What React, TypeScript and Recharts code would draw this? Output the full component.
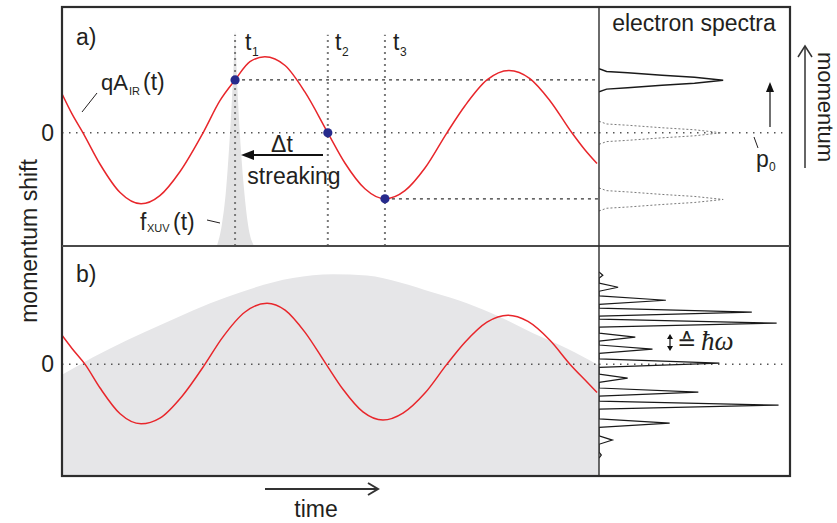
import React from 'react';
import {
  ComposedChart, Line, Area, Scatter, XAxis, YAxis, ReferenceLine,
} from 'recharts';

// time axis in fs, momentum shift in arbitrary units
const T_RANGE: [number, number] = [0, 22];
const P_RANGE_A: [number, number] = [-1.8, 2.0];
const P_RANGE_B: [number, number] = [-1.78, 1.88];

// a) IR vector potential qA_IR(t)
const IR_A = [
  { t: 0, p: 0.62 }, { t: 0.41, p: 0.3 }, { t: 0.86, p: 0 }, { t: 1.56, p: -0.5 },
  { t: 2.38, p: -0.95 }, { t: 3.24, p: -1.13 }, { t: 4.01, p: -1.0 }, { t: 4.83, p: -0.62 },
  { t: 5.78, p: 0 }, { t: 6.47, p: 0.51 }, { t: 7.09, p: 0.84 }, { t: 7.7, p: 1.13 },
  { t: 8.31, p: 1.21 }, { t: 9.14, p: 1.07 }, { t: 9.95, p: 0.65 }, { t: 10.89, p: 0 },
  { t: 11.59, p: -0.48 }, { t: 12.41, p: -0.89 }, { t: 13.23, p: -1.05 }, { t: 14.05, p: -0.92 },
  { t: 14.87, p: -0.56 }, { t: 15.77, p: 0 }, { t: 16.51, p: 0.43 }, { t: 17.41, p: 0.84 },
  { t: 18.31, p: 0.99 }, { t: 19.17, p: 0.86 }, { t: 19.99, p: 0.51 }, { t: 20.89, p: 0 },
  { t: 21.42, p: -0.27 }, { t: 21.92, p: -0.49 },
];

// a) attosecond XUV pulse f_XUV(t)
const XUV_PULSE = [
  { t: 6.35, p: -1.8 }, { t: 6.55, p: -1.46 }, { t: 6.72, p: -0.91 }, { t: 6.84, p: -0.27 },
  { t: 6.96, p: 0.52 }, { t: 7.05, p: 1.24 }, { t: 7.09, p: 1.62 }, { t: 7.13, p: 1.24 },
  { t: 7.21, p: 0.52 }, { t: 7.33, p: -0.27 }, { t: 7.46, p: -0.91 }, { t: 7.62, p: -1.46 },
  { t: 7.87, p: -1.8 },
];

// a) emission times t1..t3 and their momentum shift
const DELAYS = [
  { id: '1', t: 7.09, p: 0.84 },
  { id: '2', t: 10.89, p: 0 },
  { id: '3', t: 13.23, p: -1.05 },
];
const DELAY_LINE_TOP = 1.56;

// a) electron spectra (momentum p, intensity i)
const SPEC_T1 = [
  { p: 1.018, i: 0 }, { p: 0.975, i: 0.04 }, { p: 0.955, i: 0.15 }, { p: 0.915, i: 0.33 },
  { p: 0.883, i: 0.5 }, { p: 0.835, i: 0.65 }, { p: 0.787, i: 0.5 }, { p: 0.755, i: 0.33 },
  { p: 0.715, i: 0.15 }, { p: 0.695, i: 0.04 }, { p: 0.652, i: 0 },
];
const SPEC_T2 = [
  { p: 0.183, i: 0 }, { p: 0.14, i: 0.04 }, { p: 0.12, i: 0.15 }, { p: 0.08, i: 0.33 },
  { p: 0.048, i: 0.5 }, { p: 0, i: 0.64 }, { p: -0.048, i: 0.5 }, { p: -0.08, i: 0.33 },
  { p: -0.12, i: 0.15 }, { p: -0.14, i: 0.04 }, { p: -0.183, i: 0 },
];
const SPEC_T3 = [
  { p: -0.877, i: 0 }, { p: -0.92, i: 0.04 }, { p: -0.94, i: 0.15 }, { p: -0.98, i: 0.33 },
  { p: -1.012, i: 0.5 }, { p: -1.06, i: 0.65 }, { p: -1.108, i: 0.5 }, { p: -1.14, i: 0.33 },
  { p: -1.18, i: 0.15 }, { p: -1.2, i: 0.04 }, { p: -1.243, i: 0 },
];

// b) long XUV pulse and IR field
const IR_B = [
  { t: 0, p: 0.46 }, { t: 0.41, p: 0.25 }, { t: 0.94, p: 0 }, { t: 1.56, p: -0.38 },
  { t: 2.38, p: -0.79 }, { t: 3.24, p: -0.95 }, { t: 4.01, p: -0.86 }, { t: 4.92, p: -0.51 },
  { t: 5.86, p: 0 }, { t: 6.55, p: 0.41 }, { t: 7.5, p: 0.83 }, { t: 8.4, p: 0.97 },
  { t: 9.14, p: 0.86 }, { t: 9.95, p: 0.51 }, { t: 10.82, p: 0 }, { t: 11.51, p: -0.4 },
  { t: 12.33, p: -0.76 }, { t: 13.15, p: -0.89 }, { t: 13.97, p: -0.78 }, { t: 14.87, p: -0.46 },
  { t: 15.77, p: 0 }, { t: 16.51, p: 0.35 }, { t: 17.41, p: 0.67 }, { t: 18.27, p: 0.78 },
  { t: 19.09, p: 0.68 }, { t: 19.99, p: 0.38 }, { t: 20.81, p: 0 }, { t: 21.42, p: -0.25 },
  { t: 21.92, p: -0.45 },
];
const ENVELOPE_B = [
  { t: 0, p: -0.17 }, { t: 1.27, p: 0.11 }, { t: 4.01, p: 0.62 }, { t: 6.76, p: 1.07 },
  { t: 9.46, p: 1.37 }, { t: 11.1, p: 1.43 }, { t: 12.49, p: 1.41 }, { t: 13.85, p: 1.3 },
  { t: 15.2, p: 1.14 }, { t: 16.59, p: 0.97 }, { t: 17.94, p: 0.75 }, { t: 19.3, p: 0.49 },
  { t: 20.69, p: 0.25 }, { t: 22, p: -0.02 },
];

// b) sideband comb spectrum
const SPEC_B = [
  { p: 1.465, i: 0 }, { p: 1.415, i: 0.02 }, { p: 1.365, i: 0 },
  { p: 1.29, i: 0 }, { p: 1.224, i: 0.1 }, { p: 1.16, i: 0 },
  { p: 1.085, i: 0 }, { p: 1.017, i: 0.35 }, { p: 0.95, i: 0 },
  { p: 0.89, i: 0 }, { p: 0.827, i: 0.8 }, { p: 0.765, i: 0 },
  { p: 0.715, i: 0 }, { p: 0.652, i: 0.93 }, { p: 0.59, i: 0 },
  { p: 0.495, i: 0 }, { p: 0.429, i: 0.19 }, { p: 0.365, i: 0 },
  { p: 0.305, i: 0 }, { p: 0.238, i: 0.28 }, { p: 0.17, i: 0 },
  { p: 0.085, i: 0 }, { p: 0.016, i: 0.63 }, { p: -0.05, i: 0 },
  { p: -0.16, i: 0 }, { p: -0.223, i: 0.15 }, { p: -0.29, i: 0 },
  { p: -0.38, i: 0 }, { p: -0.445, i: 0.52 }, { p: -0.51, i: 0 },
  { p: -0.59, i: 0 }, { p: -0.652, i: 0.94 }, { p: -0.715, i: 0 },
  { p: -0.87, i: 0 }, { p: -0.938, i: 0.37 }, { p: -1.005, i: 0 },
  { p: -1.14, i: 0 }, { p: -1.208, i: 0.07 }, { p: -1.275, i: 0 },
  { p: -1.4, i: 0 }, { p: -1.447, i: 0.012 }, { p: -1.495, i: 0 },
];

const INK = '#231f20';
const RED = '#e8262b';
const NAVY = '#262a8c';
const FONT = '"Liberation Sans", Arial, Helvetica, sans-serif';
const NO_MARK = () => <g />;

const zeroLine = { stroke: '#555', strokeDasharray: '1.5 5.5', strokeWidth: 1.5 };

function FieldPanel({ top, height, range, children }: any) {
  return (
    <div style={{ position: 'absolute', left: 0, top }}>
      <ComposedChart width={599} height={height} margin={{ top: 0, right: 0, bottom: 0, left: 0 }}>
        <XAxis type="number" dataKey="t" domain={T_RANGE} hide allowDataOverflow />
        <YAxis
          type="number" dataKey="p" domain={range} ticks={[0]} width={62}
          axisLine={false} tickLine={false} allowDataOverflow
          tick={{ fontSize: 23, fill: INK, fontFamily: FONT }}
        />
        {children}
      </ComposedChart>
    </div>
  );
}

function SpectraPanel({ top, height, range, children }: any) {
  return (
    <div style={{ position: 'absolute', left: 599, top }}>
      <ComposedChart width={191} height={height} margin={{ top: 0, right: 0, bottom: 0, left: 0 }}>
        <XAxis type="number" dataKey="i" domain={[0, 1]} hide allowDataOverflow />
        <YAxis type="number" dataKey="p" domain={range} hide allowDataOverflow />
        <ReferenceLine segment={[{ x: 0, y: 0 }, { x: 0.96, y: 0 }]} {...zeroLine} />
        {children}
      </ComposedChart>
    </div>
  );
}

export default function App() {
  return (
    <div style={{ position: 'fixed', left: 0, top: 0, width: 837, height: 523, background: '#fff', fontFamily: FONT }}>
      <FieldPanel top={7} height={239} range={P_RANGE_A}>
        <Area
          data={XUV_PULSE} dataKey="p" type="monotone" baseValue={P_RANGE_A[0]}
          fill="#e2e2e3" fillOpacity={1} stroke="none" isAnimationActive={false}
        />
        <ReferenceLine y={0} {...zeroLine} />
        {DELAYS.map(d => (
          <ReferenceLine
            key={`v${d.id}`}
            segment={[{ x: d.t, y: P_RANGE_A[0] }, { x: d.t, y: DELAY_LINE_TOP }]}
            stroke="#7a7a7a" strokeDasharray="2 4" strokeWidth={2}
          />
        ))}
        {DELAYS.filter(d => d.p !== 0).map(d => (
          <ReferenceLine
            key={`h${d.id}`}
            segment={[{ x: d.t, y: d.p }, { x: T_RANGE[1], y: d.p }]}
            stroke="#333" strokeDasharray="3 4" strokeWidth={1.2}
          />
        ))}
        <Line data={IR_A} dataKey="p" type="monotone" stroke={RED} strokeWidth={1.5} dot={false} isAnimationActive={false} />
        <Scatter
          data={DELAYS} dataKey="p" fill={NAVY} isAnimationActive={false}
          shape={(s: any) => <circle cx={s.cx} cy={s.cy} r={4.6} fill={NAVY} />}
        />
      </FieldPanel>

      <FieldPanel top={246} height={230} range={P_RANGE_B}>
        <Area
          data={ENVELOPE_B} dataKey="p" type="monotone" baseValue={P_RANGE_B[0]}
          fill="#e6e6e8" fillOpacity={1} stroke="none" isAnimationActive={false}
        />
        <ReferenceLine y={0} {...zeroLine} />
        <Line data={IR_B} dataKey="p" type="monotone" stroke={RED} strokeWidth={1.5} dot={false} isAnimationActive={false} />
      </FieldPanel>

      <SpectraPanel top={7} height={239} range={P_RANGE_A}>
        <Scatter data={SPEC_T2} shape={NO_MARK} line={{ stroke: '#7a7a7a', strokeWidth: 1, strokeDasharray: '2 2' }} isAnimationActive={false} />
        <Scatter data={SPEC_T3} shape={NO_MARK} line={{ stroke: '#7a7a7a', strokeWidth: 1, strokeDasharray: '2 2' }} isAnimationActive={false} />
        <Scatter data={SPEC_T1} shape={NO_MARK} line={{ stroke: '#1a1a1a', strokeWidth: 1.4 }} isAnimationActive={false} />
      </SpectraPanel>

      <SpectraPanel top={246} height={230} range={P_RANGE_B}>
        <Scatter data={SPEC_B} shape={NO_MARK} line={{ stroke: '#1a1a1a', strokeWidth: 1.2 }} isAnimationActive={false} />
      </SpectraPanel>

      <svg width={837} height={523} style={{ position: 'absolute', left: 0, top: 0, pointerEvents: 'none' }}
        fontFamily={FONT} fill={INK}>
        {/* frame */}
        <rect x={62} y={7} width={728} height={469} fill="none" stroke="#2d2d2d" strokeWidth={2.2} />
        <line x1={62} y1={246} x2={790} y2={246} stroke="#4a4a4a" strokeWidth={1.8} />
        <line x1={599} y1={7} x2={599} y2={476} stroke="#2d2d2d" strokeWidth={1.4} />

        {/* panel a labels */}
        <text x={76} y={45} fontSize={23}>a)</text>
        <text x={76} y={282} fontSize={23}>b)</text>
        {[{ id: '1', x: 245 }, { id: '2', x: 335 }, { id: '3', x: 393 }].map(l => (
          <g key={l.id}>
            <text x={l.x} y={50} fontSize={23}>t</text>
            <text x={l.x + 7} y={56} fontSize={12}>{l.id}</text>
          </g>
        ))}
        <text x={101} y={90} fontSize={22}>qA</text>
        <text x={129} y={95} fontSize={11}>IR</text>
        <text x={143} y={90} fontSize={23}>(t)</text>
        <line x1={97} y1={93} x2={82} y2={112} stroke={INK} strokeWidth={1} />

        <text x={282} y={152} fontSize={23} textAnchor="middle">Δt</text>
        <line x1={323} y1={155} x2={252} y2={155} stroke="#111" strokeWidth={2} />
        <polygon points="241,155 254,150 254,160" fill="#111" />
        <text x={294} y={184} fontSize={23} textAnchor="middle">streaking</text>

        <text x={140} y={230} fontSize={23}>f</text>
        <text x={147} y={232} fontSize={11}>XUV</text>
        <text x={173} y={230} fontSize={23}>(t)</text>
        <line x1={207} y1={220} x2={220} y2={223} stroke={INK} strokeWidth={1} />

        {/* spectra labels */}
        <text x={694} y={31} fontSize={23} textAnchor="middle">electron spectra</text>
        <line x1={770} y1={127} x2={770} y2={90} stroke="#111" strokeWidth={1.2} />
        <polygon points="770,82 766,92 774,92" fill="#111" />
        <line x1={754} y1={137} x2={758} y2={148} stroke={INK} strokeWidth={1} />
        <text x={756} y={167} fontSize={23}>p</text>
        <text x={769} y={171} fontSize={12}>0</text>

        <line x1={670} y1={337} x2={670} y2={348} stroke="#111" strokeWidth={1.2} />
        <polygon points="670,334 667,339 673,339" fill="#111" />
        <polygon points="670,351 667,346 673,346" fill="#111" />
        <text x={677} y={350} fontSize={23} fontFamily='"DejaVu Sans", sans-serif'>≙</text>
        <text x={701} y={350} fontSize={27} fontStyle="italic" fontFamily='"Liberation Serif", "DejaVu Serif", serif'>ħω</text>

        {/* momentum axis, right */}
        <line x1={805} y1={168} x2={805} y2={47} stroke="#333" strokeWidth={1.5} />
        <polyline points="798,57 805,46 812,57" fill="none" stroke="#333" strokeWidth={1.5} />
        <text x={818} y={107} fontSize={22} textAnchor="middle" transform="rotate(90, 818, 107)">momentum</text>

        {/* y label and time arrow */}
        <text x={37} y={241} fontSize={23} textAnchor="middle" transform="rotate(-90, 37, 241)">momentum shift</text>
        <line x1={265} y1={489} x2={377} y2={489} stroke="#333" strokeWidth={2} />
        <polyline points="368,483 378,489 368,495" fill="none" stroke="#333" strokeWidth={2} />
        <text x={316} y={517} fontSize={23} textAnchor="middle">time</text>
      </svg>
    </div>
  );
}
